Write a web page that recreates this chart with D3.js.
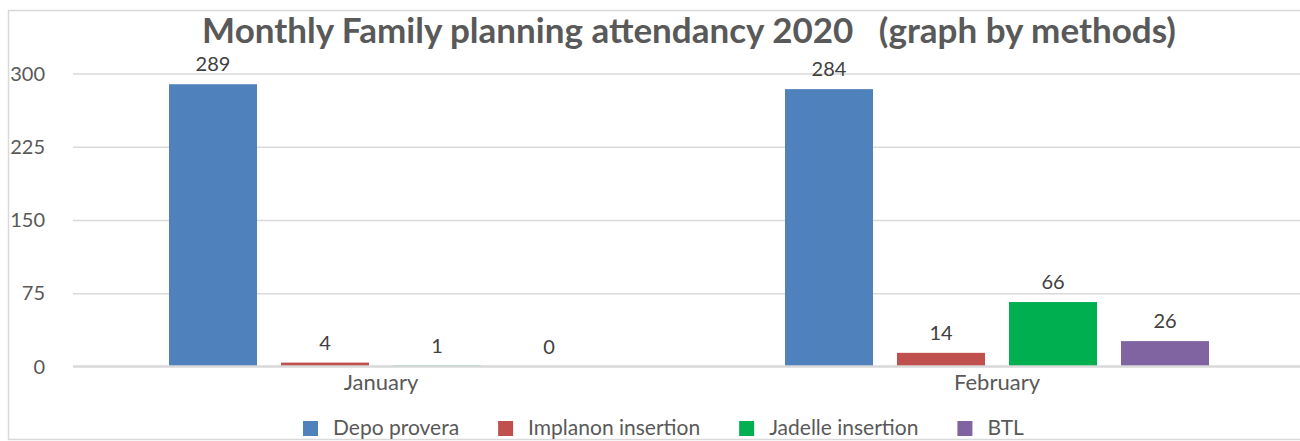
<!DOCTYPE html>
<html>
<head>
<meta charset="utf-8">
<script src="https://cdn.jsdelivr.net/npm/d3@7"></script>
<style>
  body { margin: 0; background: #fff; }
  text { font-family: Lato, "Open Sans", sans-serif; }
</style>
</head>
<body>
<svg id="chart"></svg>
<script>
const width = 1300,
      height = 441;

// data
const months = ["January", "February"];
const methods = ["Depo provera", "Implanon insertion", "Jadelle insertion", "BTL"];
const depo = [289, 284];
const implanon = [4, 14];
const jadelle = [1, 66];
const btl = [0, 26];
const yTicks = [0, 75, 150, 225, 300];
const colors = ["#4F81BD", "#C0504D", "#00B050", "#8064A2"];

const series = [depo, implanon, jadelle, btl];

const svg = d3.select("#chart")
    .attr("width", width)
    .attr("height", height);

// outer frame
svg.append("rect")
    .attr("x", 8.5).attr("y", 10.5)
    .attr("width", 1310).attr("height", 429)
    .attr("fill", "none")
    .attr("stroke", "#d9d9d9")
    .attr("stroke-width", 1.5);

// title
svg.append("text")
    .attr("x", 689).attr("y", 43)
    .attr("text-anchor", "middle")
    .attr("font-size", 35)
    .attr("font-weight", "bold")
    .attr("fill", "#595959")
    .attr("xml:space", "preserve")
    .text("Monthly Family planning attendancy 2020   (graph by methods)");

const y = d3.scaleLinear()
    .domain([0, 300])
    .range([366.5, 73.5]);

const x0 = d3.scaleBand()
    .domain(months)
    .range([73, 1305])
    .paddingInner(192 / 616)
    .paddingOuter(96 / 616);

const x1 = d3.scaleBand()
    .domain(methods)
    .range([0, x0.bandwidth()])
    .paddingInner(24 / 112)
    .paddingOuter(0);

// gridlines
const grid = svg.append("g")
    .attr("transform", "translate(73,0)")
    .call(d3.axisLeft(y).tickValues(yTicks.slice(1)).tickSize(-1232).tickFormat(""));
grid.select(".domain").remove();
grid.selectAll("line").attr("stroke", "#d9d9d9").attr("stroke-width", 1.5);

// y labels
svg.append("g")
    .selectAll("text")
    .data(yTicks)
    .join("text")
    .attr("x", 45)
    .attr("y", d => y(d))
    .attr("dy", "0.35em")
    .attr("text-anchor", "end")
    .attr("font-size", 20)
    .attr("fill", "#595959")
    .text(d => d);

// bars
const groups = svg.append("g")
    .selectAll("g")
    .data(months)
    .join("g")
    .attr("transform", d => `translate(${x0(d)},0)`);

const cells = groups.selectAll("g")
    .data((m, i) => methods.map((s, j) => ({ s: s, j: j, v: series[j][i] })))
    .join("g");

cells.append("rect")
    .attr("x", d => x1(d.s))
    .attr("y", d => y(d.v))
    .attr("width", x1.bandwidth())
    .attr("height", d => y(0) - y(d.v))
    .attr("fill", d => colors[d.j]);

cells.append("text")
    .attr("x", d => x1(d.s) + x1.bandwidth() / 2)
    .attr("y", d => y(d.v) - 13)
    .attr("text-anchor", "middle")
    .attr("font-size", 20)
    .attr("fill", "#404040")
    .text(d => d.v);

// category axis line, drawn over the bars
svg.append("line")
    .attr("x1", 73).attr("x2", 1305)
    .attr("y1", y(0)).attr("y2", y(0))
    .attr("stroke", "#d9d9d9")
    .attr("stroke-width", 2.5);

// x labels
svg.append("g")
    .selectAll("text")
    .data(months)
    .join("text")
    .attr("x", d => x0(d) + x0.bandwidth() / 2)
    .attr("y", 390)
    .attr("text-anchor", "middle")
    .attr("font-size", 22)
    .attr("fill", "#595959")
    .text(d => d);

// legend
const legend = svg.append("g");
let lx = 303;
methods.forEach((m, i) => {
    legend.append("rect")
        .attr("x", lx).attr("y", 421)
        .attr("width", 15).attr("height", 15)
        .attr("fill", colors[i]);
    const t = legend.append("text")
        .attr("x", lx + 30).attr("y", 435)
        .attr("font-size", 21)
        .attr("fill", "#595959")
        .text(m);
    lx += 30 + t.node().getComputedTextLength() + 39;
});
</script>
</body>
</html>
